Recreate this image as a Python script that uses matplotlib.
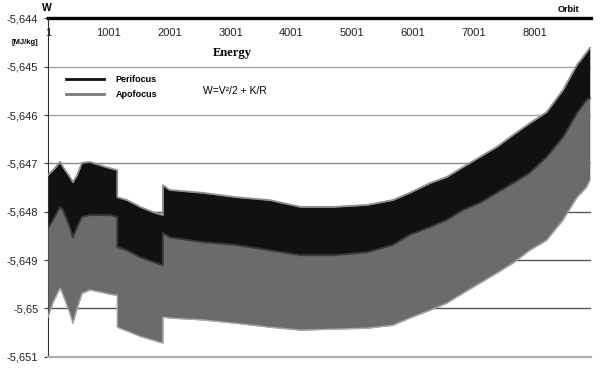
import matplotlib
matplotlib.use("Agg")
import matplotlib.pyplot as plt
from matplotlib.lines import Line2D
from matplotlib.ticker import FuncFormatter

# Orbit numbers at which the envelopes were read (repeated orbit = vertical jump)
orbits = [1, 85, 200, 250, 360, 410, 480, 560, 690, 855, 1020, 1140, 1140, 1300, 1515,
          1730, 1890, 1890, 2000, 2550, 3100, 3650, 4150, 4700, 5250, 5670, 5950, 6280,
          6560, 6820, 7100, 7380, 7650, 7920, 8200, 8470, 8700, 8860, 8910]

# Perifocus energy: upper envelope of the oscillation [MJ/kg]
peri_max = [-5.64724, -5.64714, -5.64697, -5.64708, -5.64728, -5.64739, -5.64724, -5.64699,
            -5.64697, -5.64704, -5.64710, -5.64714, -5.64770, -5.64776, -5.64790, -5.64801,
            -5.64807, -5.64745, -5.64755, -5.64761, -5.64770, -5.64776, -5.64790, -5.64790,
            -5.64786, -5.64776, -5.64761, -5.64741, -5.64728, -5.64708, -5.64687, -5.64666,
            -5.64641, -5.64617, -5.64594, -5.64548, -5.64496, -5.64470, -5.64461]

# Apofocus energy: upper envelope
apo_max = [-5.64834, -5.64817, -5.64790, -5.64797, -5.64832, -5.64853, -5.64832, -5.64811,
           -5.64807, -5.64807, -5.64807, -5.64811, -5.64873, -5.64880, -5.64894, -5.64904,
           -5.64911, -5.64844, -5.64853, -5.64863, -5.64869, -5.64880, -5.64890, -5.64890,
           -5.64884, -5.64869, -5.64848, -5.64832, -5.64817, -5.64797, -5.64782, -5.64761,
           -5.64741, -5.64720, -5.64687, -5.64646, -5.64596, -5.64569, -5.64565]

# Apofocus energy: lower envelope
apo_min = [-5.65018, -5.64987, -5.64958, -5.64973, -5.65010, -5.65031, -5.65000, -5.64969,
           -5.64962, -5.64966, -5.64971, -5.64973, -5.65039, -5.65047, -5.65058, -5.65066,
           -5.65072, -5.65018, -5.65020, -5.65024, -5.65031, -5.65039, -5.65045, -5.65043,
           -5.65041, -5.65035, -5.65020, -5.65004, -5.64989, -5.64969, -5.64948, -5.64927,
           -5.64906, -5.64880, -5.64859, -5.64817, -5.64770, -5.64749, -5.64735]

x_ticks = [1, 1001, 2001, 3001, 4001, 5001, 6001, 7001, 8001]
y_ticks = [-5.644, -5.645, -5.646, -5.647, -5.648, -5.649, -5.650, -5.651]
series_names = ["Perifocus", "Apofocus"]

BLACK = "#111111"
GRAY = "#6b6b6b"

plt.rcParams['font.family'] = ['Liberation Sans', 'DejaVu Sans']

fig = plt.figure(figsize=(6.0, 3.74), dpi=100)
ax = fig.add_axes([48 / 600, 1 - 356.7 / 374, (591 - 48) / 600, (356.7 - 18.4) / 374])

ax.set_xlim(1, 8930)
ax.set_ylim(-5.651, -5.644)

# gridlines (below data)
grid_cols = {-5.645: "#a4a4a4", -5.646: "#a4a4a4", -5.647: "#8a8a8a",
             -5.648: "#555555", -5.649: "#555555", -5.650: "#555555"}
for yv, c in grid_cols.items():
    ax.axhline(yv, color=c, lw=1.0, zorder=1)

# perifocus band (black), apofocus band (gray) on top
ax.fill_between(orbits, apo_max, peri_max, color=BLACK, lw=0, zorder=2)
ax.plot(orbits, peri_max, color="#8e8e8e", lw=1.3, zorder=3)
ax.fill_between(orbits, apo_min, apo_max, color=GRAY, lw=0, zorder=4)
ax.plot(orbits, apo_max, color="#3a3a3a", lw=1.4, zorder=4)
ax.plot(orbits, apo_min, color="#a8a8a8", lw=1.0, zorder=5)

# spines
ax.spines["right"].set_visible(False)
ax.spines["top"].set_linewidth(2.4)
ax.spines["top"].set_color("black")
ax.spines["left"].set_color("#303030")
ax.spines["left"].set_linewidth(0.8)
ax.spines["bottom"].set_color("#b0b0b0")
ax.spines["bottom"].set_linewidth(1.6)

ax.set_yticks(y_ticks)
ax.yaxis.set_major_formatter(FuncFormatter(
    lambda v, p: ("%.3f" % v).rstrip("0").replace(".", ",")))
ax.tick_params(axis="y", length=3, width=0.8, color="#303030", labelsize=8,
               labelcolor="#222222", pad=4)

ax.set_xticks(x_ticks)
ax.set_xticklabels([str(t) for t in x_ticks])
ax.tick_params(axis="x", bottom=False, labelbottom=False, top=True, labeltop=True,
               length=0, pad=-14, labelsize=8, labelcolor="#222222")

# texts
fig.text(47 / 600, 1 - 8 / 374, "W", fontsize=7.5, fontweight="bold", ha="center", va="center")
fig.text(25 / 600, 1 - 43 / 374, "[MJ/kg]", fontsize=5.5, fontweight="bold", ha="center", va="center")
fig.text(568 / 600, 1 - 10 / 374, "Orbit", fontsize=6.5, fontweight="bold", ha="center", va="center")
fig.text(232 / 600, 1 - 53 / 374, "Energy", fontsize=9, fontweight="bold", ha="center",
         va="center", family=["Liberation Serif", "DejaVu Serif"])
fig.text(203 / 600, 1 - 91 / 374, "W=V²/2 + K/R", fontsize=7.5, ha="left", va="center")

handles = [Line2D([], [], color=BLACK, lw=2.0), Line2D([], [], color="#7a7a7a", lw=2.0)]
leg = ax.legend(handles, series_names, loc="upper left", frameon=False,
                bbox_to_anchor=(66 / 600, 1 - 75 / 374), bbox_transform=fig.transFigure,
                prop={"size": 6.5, "weight": "bold"}, handlelength=4.2, handletextpad=1.3,
                labelspacing=0.65, borderaxespad=0, borderpad=0)

fig.savefig("out.png", dpi=100)
